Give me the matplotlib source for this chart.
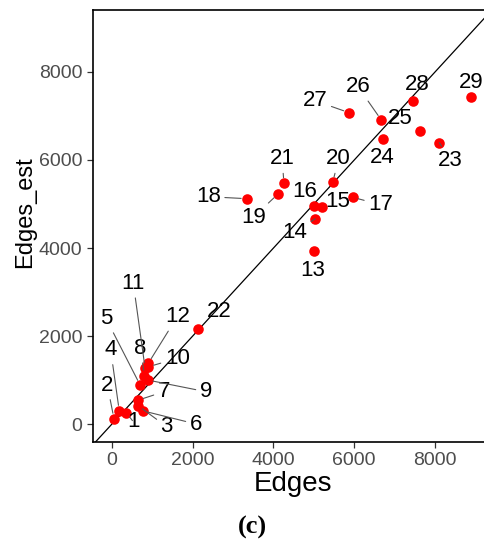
import matplotlib
matplotlib.use("Agg")
import matplotlib.pyplot as plt

# ---- data ----
ids = [str(i) for i in range(1, 30)]
edges = [350, 50, 640, 180, 700, 760, 640, 800, 880, 900, 820, 900,
         4996, 5035, 5209, 5011, 5962, 3336, 4111, 5466, 4260, 2123,
         8107, 6705, 7628, 6670, 5870, 7462, 8884]
edges_est = [260, 120, 420, 300, 880, 300, 540, 1100, 1000, 1300, 1270, 1380,
             3939, 4667, 4939, 4955, 5152, 5121, 5227, 5492, 5470, 2152,
             6394, 6477, 6659, 6909, 7076, 7348, 7439]
# label text positions (data units, as repelled in the original)
label_x = [528, -116, 1355, -32, -149, 2080, 1288, 711, 2328, 1617, 528, 1617,
           4971, 4525, 5590, 4763, 6655, 2385, 3500, 5615, 4211, 2658,
           8389, 6687, 7133, 6093, 5028, 7554, 8884]
label_y = [52, 886, -61, 1682, 2402, 0, 734, 1720, 734, 1493, 3198, 2439,
           3500, 4348, 5061, 5273, 4984, 5166, 4698, 6030, 6030, 2552,
           5984, 6061, 6932, 7666, 7348, 7727, 7757]
has_segment = [True] * 12 + [False, True, False, False, True, True, True, True,
                             True, False, True, False, False, True, True, False, False]
xticks = [0, 2000, 4000, 6000, 8000]
yticks = [0, 2000, 4000, 6000, 8000]

plt.rcParams['font.family'] = ['Liberation Sans', 'DejaVu Sans']

W, H = 485, 541
fig = plt.figure(figsize=(W / 100, H / 100), dpi=100)
left, right, top, bottom = 93, 490, 10, 442
ax = fig.add_axes([left / W, 1 - bottom / H, (right - left) / W, (bottom - top) / H])
ax.set_xlim(-470, 9362)
ax.set_ylim(-409, 9409)

ax.axline((0, 0), slope=1, color='black', lw=0.9, zorder=1)
ax.scatter(edges, edges_est, s=58, color='#ff0000', zorder=3, linewidths=0)

for i in range(len(ids)):
    kw = {}
    if has_segment[i]:
        kw['arrowprops'] = dict(arrowstyle='-', color='#555555', lw=0.8,
                                shrinkA=1, shrinkB=4)
    ax.annotate(ids[i], xy=(edges[i], edges_est[i]), xytext=(label_x[i], label_y[i]),
                textcoords='data', ha='center', va='center', fontsize=16,
                color='black', zorder=4, **kw)

ax.set_xticks(xticks)
ax.set_yticks(yticks)
ax.set_xticklabels([str(v) for v in xticks])
ax.set_yticklabels([str(v) for v in yticks])
ax.tick_params(axis='both', labelsize=14, colors='#333333', labelcolor='#4d4d4d',
               length=4, width=0.9, direction='out')
for s in ['left', 'bottom', 'top']:
    ax.spines[s].set_color('black')
    ax.spines[s].set_linewidth(1.2)
ax.spines['right'].set_visible(False)

fig.text(293 / W, 1 - 484 / H, 'Edges', ha='center', va='center', fontsize=20)
fig.text(25 / W, 1 - 212 / H, 'Edges_est', ha='center', va='center', fontsize=17,
         rotation=90)
fig.text(252 / W, 1 - 527 / H, '(c)', ha='center', va='center', fontsize=19,
         family=['Liberation Serif', 'DejaVu Serif'], fontweight='bold')

fig.savefig('out.png', dpi=100)
